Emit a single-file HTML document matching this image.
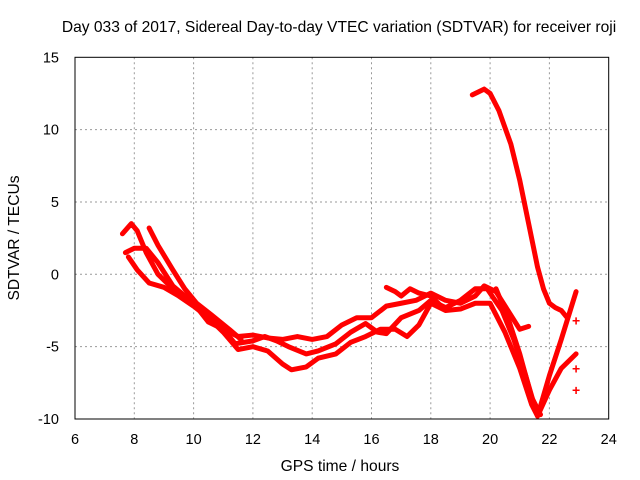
<!DOCTYPE html>
<html><head><meta charset="utf-8"><style>
body{margin:0;background:#fff}
svg{display:block;font-family:"Liberation Sans",sans-serif}
</style></head><body>
<svg id="c" width="640" height="480">
<text x="339" y="32" text-anchor="middle" font-size="15.6">Day 033 of 2017, Sidereal Day-to-day VTEC variation (SDTVAR) for receiver roji</text>
<text x="340" y="471" text-anchor="middle" font-size="15.6">GPS time / hours</text>
<text transform="translate(19,238) rotate(-90)" text-anchor="middle" font-size="15.6">SDTVAR / TECUs</text>
<g id="grid"></g><g id="series"></g>
<rect x="75" y="57.3" width="533.7" height="361.7" fill="none" stroke="#000" stroke-width="1"/>
</svg>
<script>
const xTicks=[6,8,10,12,14,16,18,20,22,24];
const yTicks=[-10,-5,0,5,10,15];
const s1=[[7.6,2.8],[7.9,3.5],[8.1,3.0],[8.4,1.5],[8.8,0],[9.3,-1],[10,-2],[10.5,-3],[11,-3.8],[11.5,-4.3],[12,-4.2],[12.5,-4.4],[13,-4.5],[13.5,-4.3],[14,-4.5],[14.5,-4.3],[15,-3.5],[15.5,-3],[16,-3.0],[16.5,-2.2],[17,-2],[17.5,-1.8],[18,-1.3],[18.5,-1.8],[19,-2.0],[19.5,-1.5],[19.8,-0.8],[20.2,-1.2],[20.6,-2.5],[21,-3.8],[21.3,-3.6]];
const s2=[[7.7,1.5],[8.0,1.8],[8.4,1.8],[8.8,0.8],[9.3,-0.8],[10,-2.0],[10.5,-3.3],[11,-3.8],[11.4,-4.8],[12,-4.6],[12.4,-4.3],[12.8,-4.6],[13.2,-5.0],[13.8,-5.5],[14.2,-5.3],[14.8,-4.8],[15.3,-4.0],[15.8,-3.4],[16.2,-4.0],[16.5,-4.1],[17,-3],[17.6,-2.5],[18,-1.8],[18.5,-2.3],[19,-1.8],[19.5,-1.0],[19.9,-1.0],[20.4,-2.5],[20.8,-4.5],[21.2,-7],[21.6,-9.8],[22,-8],[22.4,-6.5],[22.9,-5.5]];
const s3=[[7.8,1.2],[8.1,0.3],[8.5,-0.6],[9,-0.9],[9.5,-1.5],[10,-2.2],[10.5,-3],[11,-4],[11.5,-5.2],[12,-5.0],[12.5,-5.3],[13,-6.2],[13.3,-6.6],[13.8,-6.4],[14.2,-5.8],[14.8,-5.5],[15.3,-4.7],[15.8,-4.3],[16.3,-3.8],[16.8,-3.8],[17.2,-4.3],[17.6,-3.5],[18,-2.0],[18.5,-2.5],[19,-2.4],[19.5,-2.0],[20,-2.0],[20.5,-4],[21,-6.5],[21.4,-9],[21.6,-9.8],[22.0,-7],[22.4,-4.5],[22.9,-1.2]];
const s4=[[8.5,3.2],[8.8,2],[9.3,0.3],[9.7,-1],[10.1,-2],[10.6,-2.8],[11.2,-3.8],[11.6,-4.5]];
const s5=[[16.5,-0.9],[16.8,-1.2],[17.0,-1.5],[17.3,-1.0],[17.6,-1.3],[18,-1.5],[18.4,-2.3]];
const s6=[[19.4,12.4],[19.8,12.8],[20.0,12.5],[20.3,11.3],[20.7,9],[21,6.5],[21.3,3.5],[21.6,0.5],[21.8,-1],[22.0,-2.0],[22.2,-2.3],[22.4,-2.5],[22.6,-3.0]];
const s7=[[20.2,-1.0],[20.6,-3],[21,-5.5],[21.4,-8.5],[21.7,-9.7]];
const pts=[[22.9,-6.5],[22.9,-8.0],[22.9,-3.2]];
const allSeries=[s1,s2,s3,s4,s5,s6,s7];
const X=v=>75+(v-6)*(533.7/18);
const Y=v=>274.3-v*14.47;
const NS="http://www.w3.org/2000/svg";
const g=document.getElementById('grid'),sg=document.getElementById('series');
function mk(t,a,p){const e=document.createElementNS(NS,t);for(const k in a)e.setAttribute(k,a[k]);p.appendChild(e);return e;}
xTicks.forEach(t=>{const x=X(t);
 if(t>6&&t<24){const l=mk('line',{x1:x,x2:x,y1:57.3,y2:419,stroke:'#999','stroke-dasharray':'2,3'},g);
 
 }
 const tx=mk('text',{x:x,y:444,'text-anchor':'middle','font-size':14.5},g);tx.textContent=t;
 
 });
yTicks.forEach(t=>{const y=Y(t);
 if(t>-10&&t<15){const l=mk('line',{x1:75,x2:608.7,y1:y,y2:y,stroke:'#999','stroke-dasharray':'2,3'},g);
 
 }
 const tx=mk('text',{x:59,y:y+5,'text-anchor':'end','font-size':14.5},g);tx.textContent=t;
 
 });
allSeries.forEach((s,i)=>{const p=mk('polyline',{points:s.map(d=>X(d[0])+','+Y(d[1])).join(' '),fill:'none',stroke:'#f00','stroke-width':5,'stroke-linejoin':'round','stroke-linecap':'round'},sg);
 
 });
pts.forEach(d=>{const t=mk('text',{x:X(d[0]),y:Y(d[1])+5,'text-anchor':'middle','font-size':14,fill:'#f00','font-weight':'bold'},sg);t.textContent='+';
 
 });
</script>
</body></html>
